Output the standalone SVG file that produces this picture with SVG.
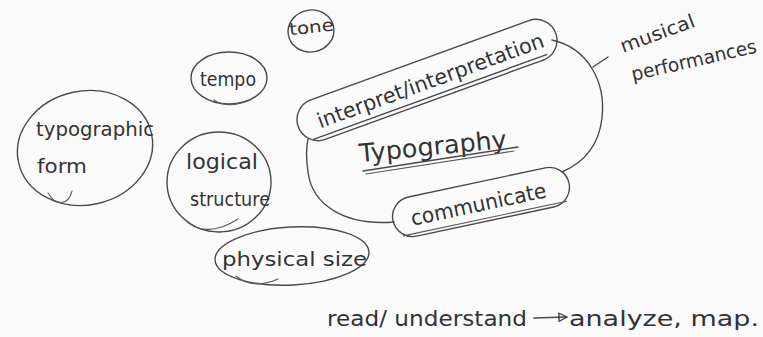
<svg xmlns="http://www.w3.org/2000/svg" width="763" height="337" viewBox="0 0 763 337">
  <style>
    .ink { fill: none; stroke: #4a4a4a; stroke-width: 1.4; stroke-linecap: round; stroke-linejoin: round; }
    .faint { fill: none; stroke: #5a5a5a; stroke-width: 1.1; stroke-linecap: round; }
    .hand { font-family: "DejaVu Sans", "Liberation Sans", sans-serif; fill: #333333; }
  </style>
  <defs>
    <marker id="arrowHead" viewBox="0 0 10 10" refX="8" refY="5" markerWidth="10" markerHeight="10" orient="auto" markerUnits="userSpaceOnUse">
      <path d="M1,1 L9,5 L1,9 Z" fill="none" stroke="#3a3a3a" stroke-width="1.3"/>
    </marker>
  </defs>

  <rect width="763" height="337" fill="#fbfbfb"/>

  <!-- connectors -->
  <g id="connectors">
    <!-- main outline around the central topic -->
    <path class="ink" d="M552,40 C588,48 606,82 602,118 C599,145 585,162 562,172"/>
    <path class="ink" d="M394,222 C345,226 312,205 308,172 C306,158 306,148 308,139"/>
    <!-- tick to the side note -->
    <path class="ink" d="M593,67 L608,57"/>
    <!-- arrow in the bottom line -->
    <path class="ink" d="M534,318 L566,317" marker-end="url(#arrowHead)"/>
  </g>

  <g id="node-tone">
    <ellipse class="ink" cx="311" cy="31" rx="23" ry="21" transform="rotate(-10 311 31)"/>
    <text class="hand" x="289" y="33" font-size="17" textLength="45" lengthAdjust="spacingAndGlyphs" transform="rotate(-6 311 28)">tone</text>
  </g>

  <g id="node-tempo">
    <ellipse class="ink" cx="229" cy="78" rx="38" ry="26"/>
    <path class="faint" d="M214,100 C222,106 236,106 246,101"/>
    <text class="hand" x="200" y="86" font-size="19" textLength="56" lengthAdjust="spacingAndGlyphs">tempo</text>
  </g>

  <g id="node-typographic-form">
    <ellipse class="ink" cx="85" cy="148" rx="68" ry="57" transform="rotate(-12 85 148)"/>
    <path class="faint" d="M48,193 C55,205 68,207 72,191"/>
    <text class="hand" x="36" y="136" font-size="20" textLength="118" lengthAdjust="spacingAndGlyphs">typographic</text>
    <text class="hand" x="37" y="173" font-size="20" textLength="50" lengthAdjust="spacingAndGlyphs">form</text>
  </g>

  <g id="node-logical-structure">
    <ellipse class="ink" cx="219" cy="182" rx="52" ry="50"/>
    <path class="faint" d="M183,218 C195,232 215,234 238,219"/>
    <text class="hand" x="186" y="169" font-size="21" textLength="72" lengthAdjust="spacingAndGlyphs">logical</text>
    <text class="hand" x="190" y="206" font-size="19" textLength="80" lengthAdjust="spacingAndGlyphs">structure</text>
  </g>

  <g id="node-physical-size">
    <ellipse class="ink" cx="292" cy="256" rx="77" ry="29" transform="rotate(-3 292 256)"/>
    <path class="faint" d="M236,276 C248,286 262,286 278,279"/>
    <text class="hand" x="222" y="266" font-size="20" textLength="145" lengthAdjust="spacingAndGlyphs">physical size</text>
  </g>

  <g id="node-interpret">
    <g transform="rotate(-20 427 80)">
      <rect class="ink" x="290" y="59" width="274" height="42" rx="21"/>
      <path class="ink" d="M300,97 L548,97"/>
      <text class="hand" x="430" y="89" font-size="21" text-anchor="middle" textLength="240" lengthAdjust="spacingAndGlyphs">interpret/interpretation</text>
    </g>
  </g>

  <g id="node-typography">
    <text class="hand" x="360" y="162" font-size="25" textLength="148" lengthAdjust="spacingAndGlyphs" transform="rotate(-5.5 360 162)">Typography</text>
    <path class="ink" d="M363,171 L518,147"/>
    <path class="faint" d="M366,174 L514,151"/>
  </g>

  <g id="node-communicate">
    <g transform="rotate(-12 481 202)">
      <rect class="ink" x="391" y="182" width="180" height="40" rx="20"/>
      <path class="faint" d="M398,219 L565,219"/>
      <text class="hand" x="478" y="211" font-size="21" text-anchor="middle" textLength="138" lengthAdjust="spacingAndGlyphs">communicate</text>
    </g>
  </g>

  <g id="note-musical">
    <text class="hand" x="623" y="53" font-size="19" textLength="78" lengthAdjust="spacingAndGlyphs" transform="rotate(-20 623 53)">musical</text>
    <text class="hand" x="633" y="81" font-size="19" textLength="128" lengthAdjust="spacingAndGlyphs" transform="rotate(-13 633 81)">performances</text>
  </g>

  <g id="note-bottom">
    <text class="hand" x="327" y="326" font-size="21" textLength="200" lengthAdjust="spacingAndGlyphs">read/ understand</text>
    <text class="hand" x="569" y="326" font-size="21" textLength="190" lengthAdjust="spacingAndGlyphs">analyze, map.</text>
  </g>
</svg>
